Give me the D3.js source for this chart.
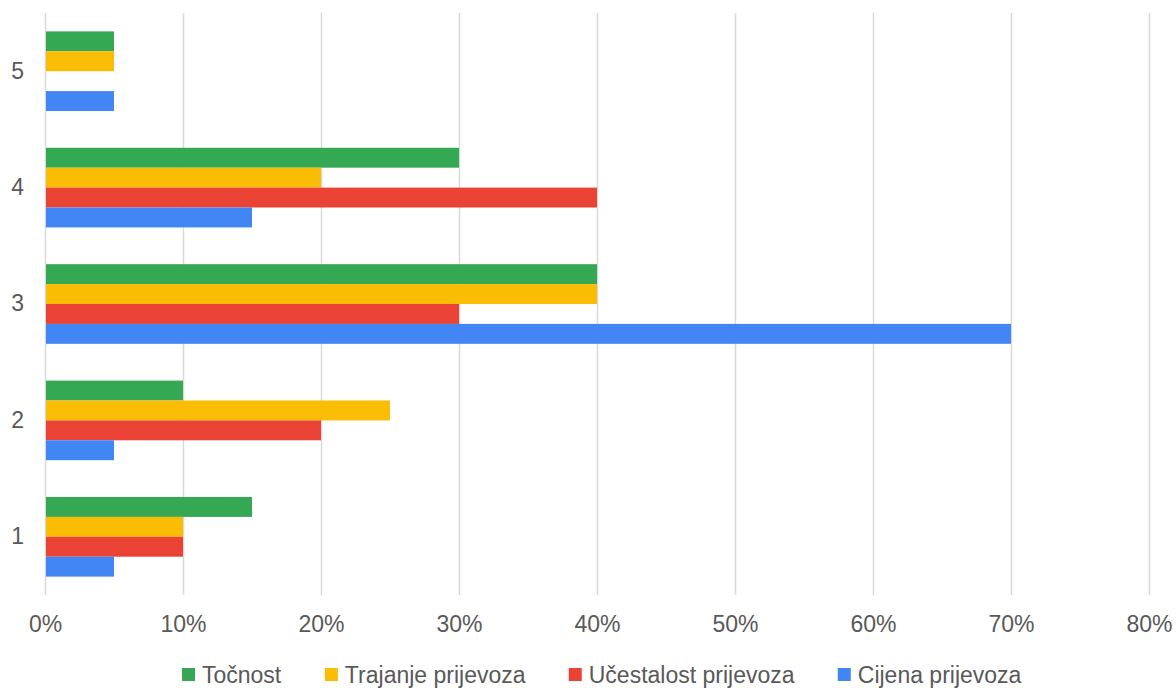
<!DOCTYPE html>
<html>
<head>
<meta charset="utf-8">
<script src="https://cdn.jsdelivr.net/npm/d3@7/dist/d3.min.js"></script>
<style>
  html, body { margin: 0; padding: 0; background: #fff; }
  svg { display: block; font-family: "Liberation Sans", Arial, sans-serif; }
</style>
</head>
<body>
<svg id="chart" width="1176" height="688"></svg>
<script>
// Ratings 1–5, share of answers per criterion
const categories = ["1", "2", "3", "4", "5"];
const seriesNames = ["Točnost", "Trajanje prijevoza", "Učestalost prijevoza", "Cijena prijevoza"];
const seriesColors = ["#34a853", "#fbbc04", "#ea4335", "#4285f4"];
const tocnost   = [15, 10, 40, 30, 5];
const trajanje  = [10, 25, 40, 20, 5];
const ucestalost = [10, 20, 30, 40, 0];
const cijena    = [5, 5, 70, 15, 5];
const xTicks = [0, 10, 20, 30, 40, 50, 60, 70, 80];

const seriesValues = [tocnost, trajanje, ucestalost, cijena];

const svg = d3.select("#chart");
const margin = { left: 45, right: 27, top: 13, bottom: 93 };
const W = 1176, H = 688;
const plotW = W - margin.left - margin.right;
const plotH = H - margin.top - margin.bottom;
const fontSize = 23;
const textColor = "#595959";

const g = svg.append("g").attr("transform", `translate(${margin.left},${margin.top})`);

const x = d3.scaleLinear().domain([0, 80]).range([0, plotW]);
// Category 1 at the bottom, 5 at the top
const y = d3.scaleBand().domain(categories.slice().reverse()).range([0, plotH]).paddingInner(0.316).paddingOuter(0.158);
const yInner = d3.scaleBand().domain(seriesNames).range([0, y.bandwidth()]);

// Vertical gridlines
g.append("g").selectAll("line").data(xTicks).join("line")
  .attr("x1", d => Math.round(x(d)) + 0.5).attr("x2", d => Math.round(x(d)) + 0.5)
  .attr("y1", 0).attr("y2", plotH)
  .attr("stroke", "#d9d9d9").attr("stroke-width", 1.5);

// Bars
const rows = [];
categories.forEach((c, i) => {
  seriesNames.forEach((s, j) => rows.push({ cat: c, series: s, value: seriesValues[j][i], color: seriesColors[j] }));
});
g.append("g").selectAll("rect").data(rows.filter(d => d.value > 0)).join("rect")
  .attr("x", x(0) + 1)
  .attr("y", d => y(d.cat) + yInner(d.series))
  .attr("width", d => x(d.value) - x(0) - 1)
  .attr("height", yInner.bandwidth())
  .attr("fill", d => d.color);

// X axis labels
const xAxis = g.append("g").attr("transform", `translate(0,${plotH})`)
  .call(d3.axisBottom(x).tickValues(xTicks).tickFormat(d => d + "%").tickSize(0).tickPadding(21));
xAxis.select(".domain").remove();
xAxis.selectAll("text").attr("font-size", fontSize).attr("fill", textColor)
  .attr("font-family", "'Liberation Sans', Arial, sans-serif");

// Y axis labels
const yAxis = g.append("g")
  .call(d3.axisLeft(y).tickSize(0).tickPadding(21));
yAxis.select(".domain").remove();
yAxis.selectAll("text").attr("font-size", fontSize).attr("fill", textColor)
  .attr("font-family", "'Liberation Sans', Arial, sans-serif");

// Legend
const legend = svg.append("g").attr("transform", "translate(0,675)");
const items = legend.selectAll("g").data(seriesNames).join("g");
items.append("rect").attr("width", 13).attr("height", 13).attr("y", -7)
  .attr("fill", (d, i) => seriesColors[i]);
items.append("text").text(d => d).attr("x", 20).attr("dy", "0.35em")
  .attr("font-size", fontSize).attr("fill", textColor);
const gap = 43;
const widths = [];
items.each(function () { widths.push(this.getBBox().width); });
let cursor = 182;
items.attr("transform", (d, i) => {
  const t = `translate(${cursor},0)`;
  cursor += widths[i] + gap;
  return t;
});
</script>
</body>
</html>
